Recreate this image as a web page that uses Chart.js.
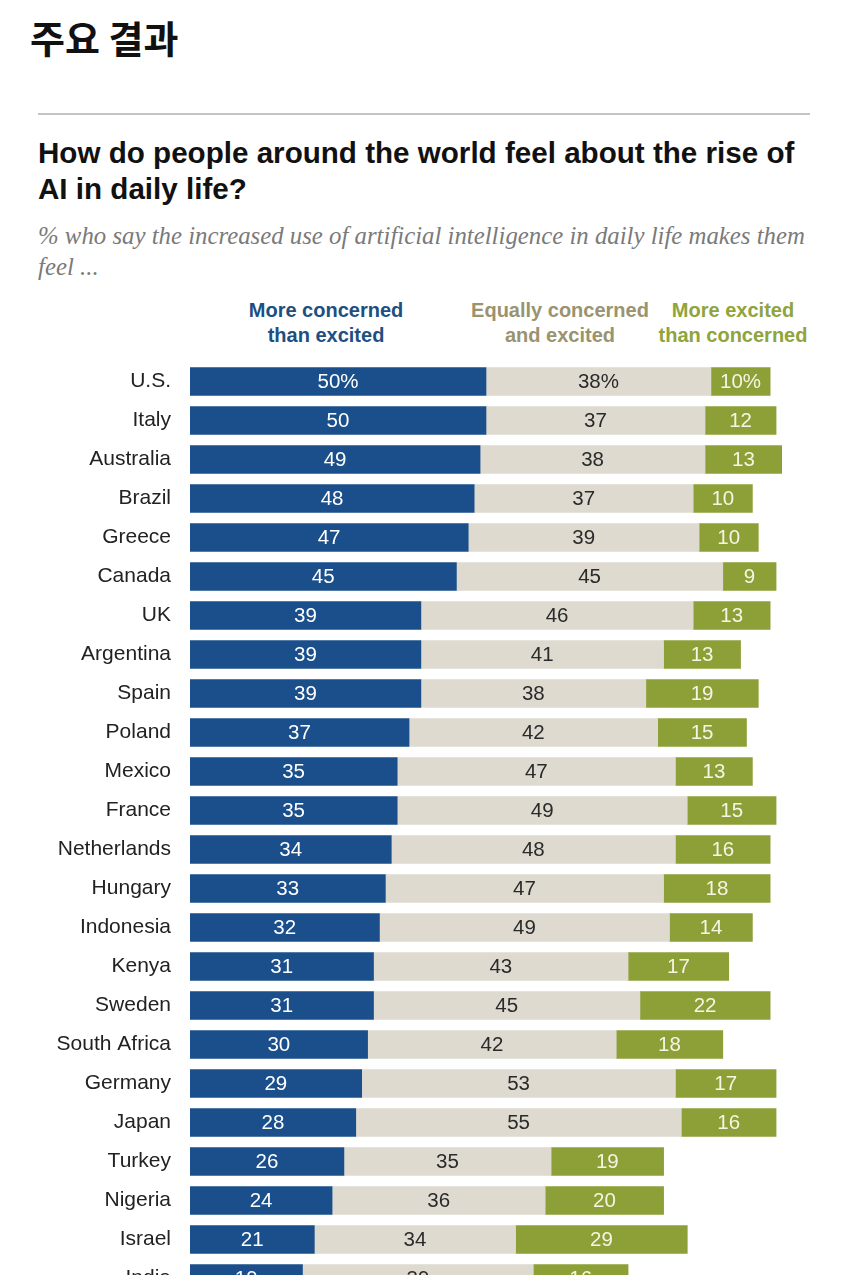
<!DOCTYPE html>
<html>
<head>
<meta charset="utf-8">
<script src="https://cdn.jsdelivr.net/npm/chart.js@4"></script>
<style>
  html, body { margin: 0; padding: 0; background: #fff; width: 850px; height: 1275px; overflow: hidden; }
  body { position: relative; font-family: 'Liberation Sans', Arial, sans-serif; }
  .kr { position: absolute; left: 30px; top: 9px; font: 700 38px 'Noto Sans CJK KR', sans-serif; color: #111; }
  .rule { position: absolute; left: 38px; top: 113px; width: 772px; height: 2px; background: #c4c4c4; }
  .title { position: absolute; left: 38px; top: 135px; font: 700 29.6px 'Liberation Sans', sans-serif; color: #111; line-height: 36px; white-space: nowrap; }
  .sub { position: absolute; left: 38px; top: 220px; font: italic 24.8px 'Liberation Serif', serif; color: #7a7a7a; line-height: 31px; white-space: nowrap; }
  .hd { position: absolute; top: 298px; font: 700 20px 'Liberation Sans', sans-serif; line-height: 25px; text-align: center; white-space: nowrap; transform: translateX(-50%); }
  #chart { position: absolute; left: 0; top: 362px; }
</style>
</head>
<body>
<div class="kr">주요 결과</div>
<div class="rule"></div>
<div class="title">How do people around the world feel about the rise of<br>AI in daily life?</div>
<div class="sub">% who say the increased use of artificial intelligence in daily life makes them<br>feel ...</div>
<div class="hd" style="left:326px;color:#1e4f82">More concerned<br>than excited</div>
<div class="hd" style="left:560px;color:#9a9370">Equally concerned<br>and excited</div>
<div class="hd" style="left:733px;color:#8fa43c">More excited<br>than concerned</div>
<canvas id="chart" width="850" height="936" style="width:850px;height:936px"></canvas>
<script>
const countries = ['U.S.', 'Italy', 'Australia', 'Brazil', 'Greece', 'Canada', 'UK', 'Argentina', 'Spain', 'Poland',
  'Mexico', 'France', 'Netherlands', 'Hungary', 'Indonesia', 'Kenya', 'Sweden', 'South Africa', 'Germany', 'Japan',
  'Turkey', 'Nigeria', 'Israel', 'India'];
const moreConcerned = [50, 50, 49, 48, 47, 45, 39, 39, 39, 37, 35, 35, 34, 33, 32, 31, 31, 30, 29, 28, 26, 24, 21, 19];
const equally = [38, 37, 38, 37, 39, 45, 46, 41, 38, 42, 47, 49, 48, 47, 49, 43, 45, 42, 53, 55, 35, 36, 34, 39];
const moreExcited = [10, 12, 13, 10, 10, 9, 13, 13, 19, 15, 13, 15, 16, 18, 14, 17, 22, 18, 17, 16, 19, 20, 29, 16];

const textColors = ['#ffffff', '#2a2a2a', '#f6f4e2'];

// draw the numbers in the middle of each segment, % on the first row
const segLabels = {
    id: 'segLabels',
    afterDatasetsDraw(chart) {
        const ctx = chart.ctx;
        ctx.save();
        ctx.font = '20.5px "Liberation Sans", Arial, sans-serif';
        ctx.textAlign = 'center';
        ctx.textBaseline = 'middle';
        chart.data.datasets.forEach((ds, di) => {
            const meta = chart.getDatasetMeta(di);
            ctx.fillStyle = textColors[di];
            meta.data.forEach((bar, i) => {
                const p = bar.getProps(['x', 'base', 'y'], true);
                const txt = ds.data[i] + (i === 0 ? '%' : '');
                ctx.fillText(txt, (p.x + p.base) / 2, p.y + 1);
            });
        });
        ctx.restore();
    }
};

new Chart(document.getElementById('chart'), {
    type: 'bar',
    data: {
        labels: countries,
        datasets: [
            { label: 'More concerned than excited', data: moreConcerned, backgroundColor: '#1a4f8b' },
            { label: 'Equally concerned and excited', data: equally, backgroundColor: '#dedad0' },
            { label: 'More excited than concerned', data: moreExcited, backgroundColor: '#8d9f37' }
        ]
    },
    options: {
        indexAxis: 'y',
        responsive: false,
        devicePixelRatio: 1,
        animation: false,
        layout: { padding: { left: 0, right: 68, top: 0, bottom: 0 } },
        datasets: { bar: { barThickness: 28, borderWidth: 0 } },
        plugins: { legend: { display: false }, tooltip: { enabled: false } },
        scales: {
            x: { stacked: true, display: false, min: 0, max: 100 },
            y: {
                stacked: true,
                border: { display: false },
                grid: { display: false, drawTicks: false },
                // fixed label column, and no extra room above/below the rows
                afterFit: s => { s.width = 190; s.paddingTop = 0; s.paddingBottom = 0; },
                ticks: { padding: 19, color: '#222', font: { family: '"Liberation Sans", Arial, sans-serif', size: 21 } }
            }
        }
    },
    plugins: [segLabels]
});
</script>
</body>
</html>
